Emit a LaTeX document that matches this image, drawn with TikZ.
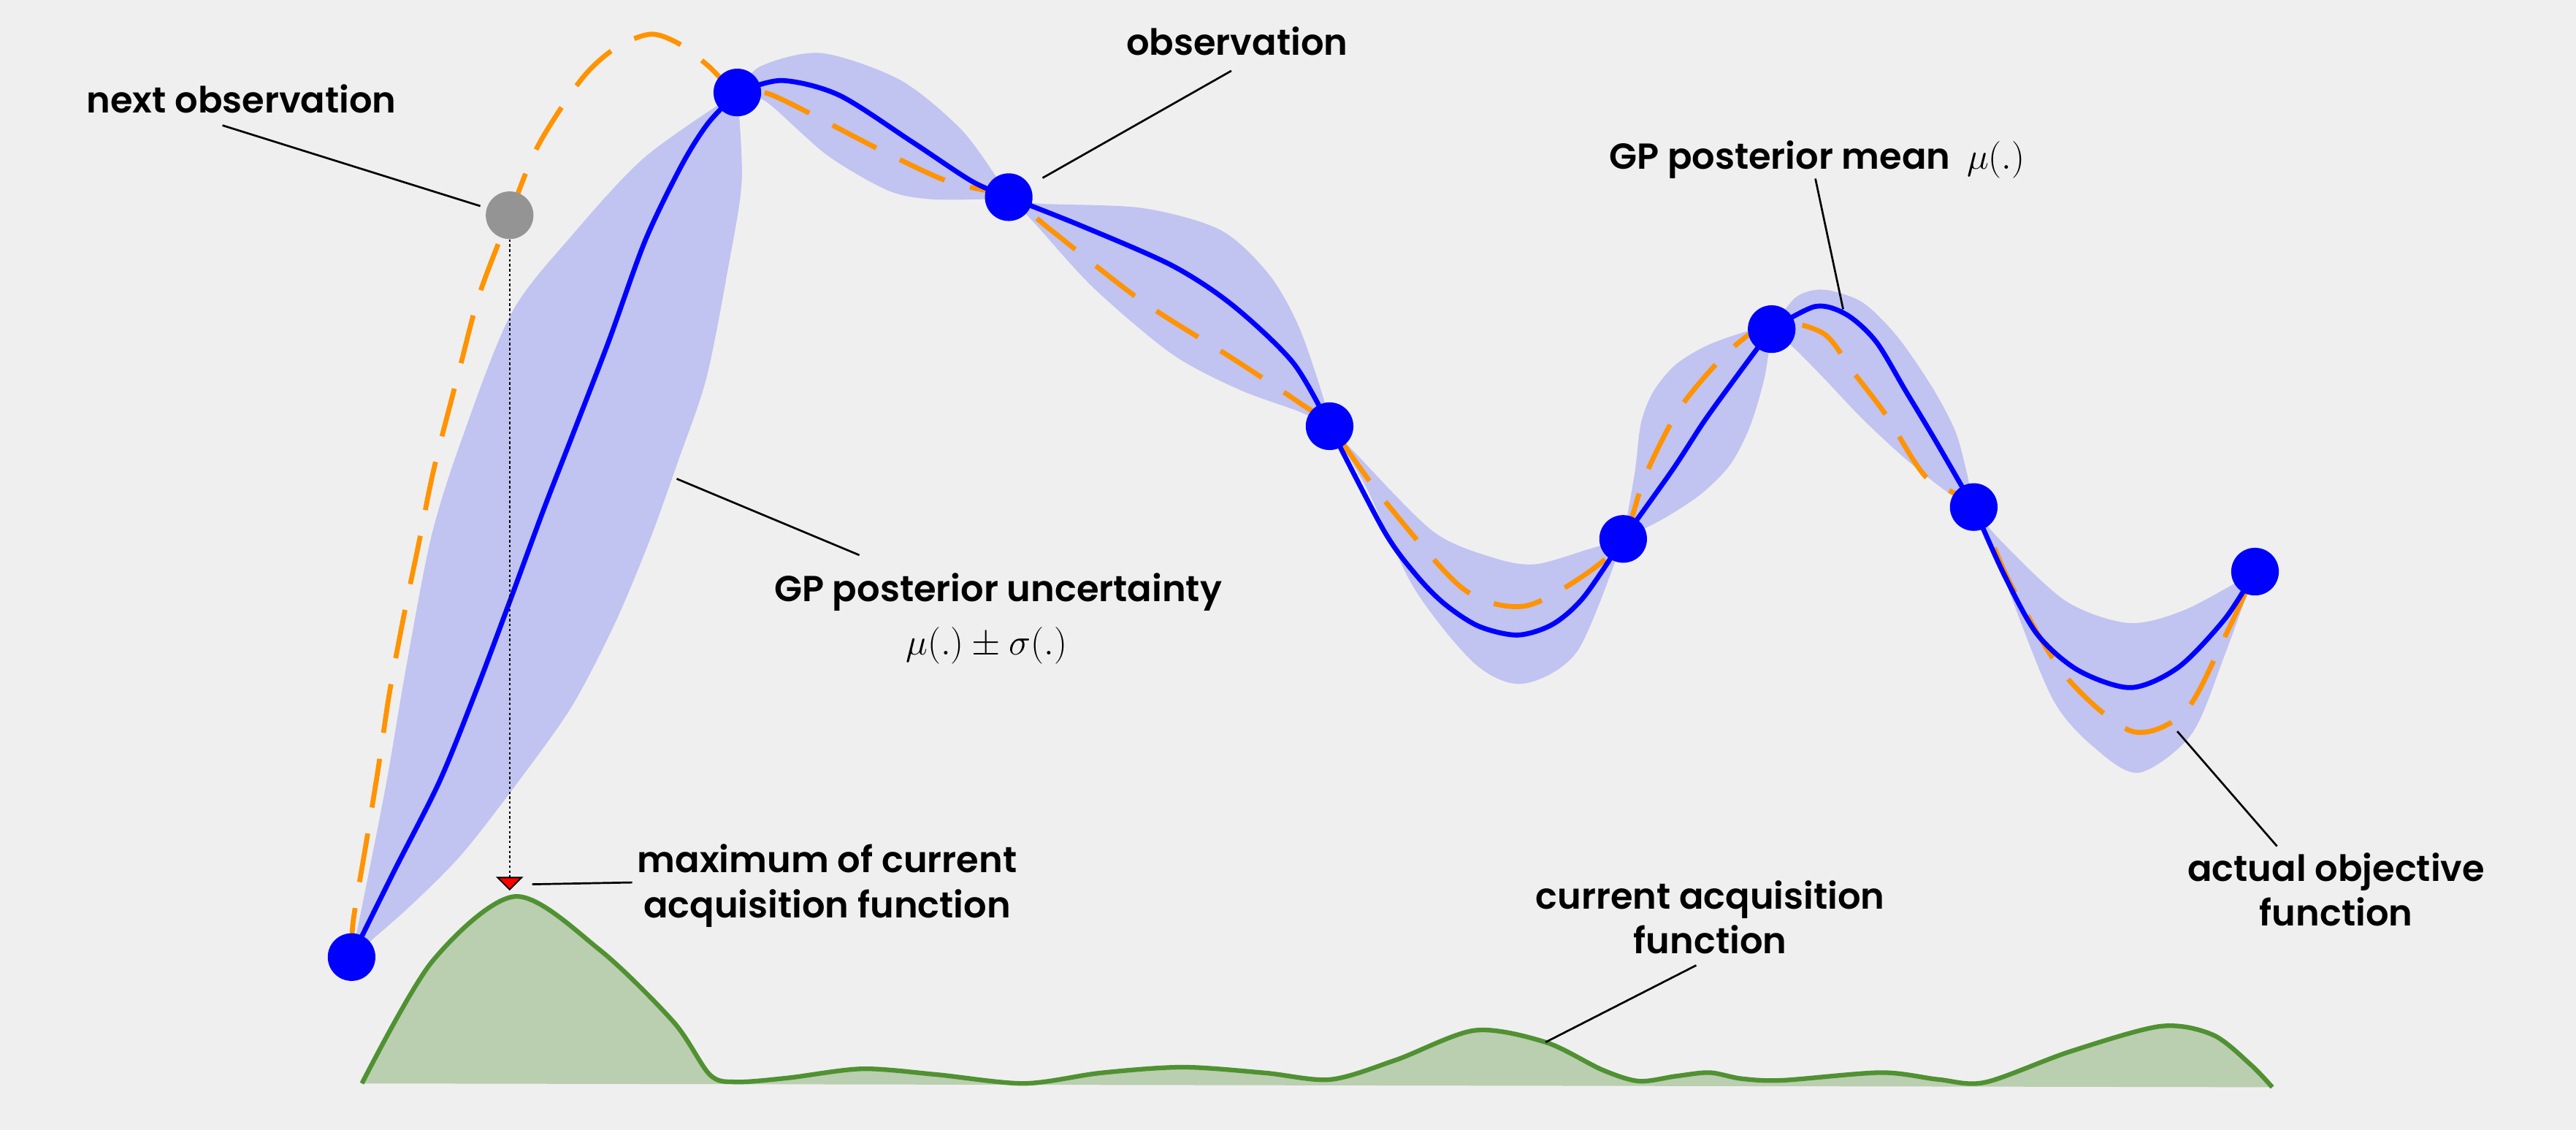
\documentclass[tikz,border=0pt]{standalone}
\usepackage{fix-cm}
\usepackage{fontspec}
\setmainfont{Poppins SemiBold}
\usetikzlibrary{arrows.meta}
\definecolor{bgcol}{RGB}{239,239,239}
\definecolor{bandcol}{RGB}{193,195,240}
\definecolor{truecol}{RGB}{255,147,0}
\definecolor{acqline}{RGB}{80,145,50}
\definecolor{acqarea}{RGB}{186,206,176}
\definecolor{nextcol}{RGB}{148,148,148}
\newcommand{\gpmath}[1]{{\fontsize{22.5}{27.2}\selectfont$#1$}}

\begin{document}
\begin{tikzpicture}[x=1pt,y=-1pt,
 mean/.style={blue,line width=3pt},
 truth/.style={truecol,line width=3pt,dash pattern=on 30pt off 16pt},
 band/.style={fill=bandcol},
 obs/.style={circle,fill=blue,minimum size=29pt,inner sep=0pt},
 lbl/.style={font=\fontsize{22}{27.2}\selectfont,align=center,anchor=base,inner sep=0pt},
 pointer/.style={black,line width=1.2pt}]
 \fill[bgcol](0,0) rectangle (1568,687.7); 
 \coordinate (p1) at (214,582.5); 
 \coordinate (p2) at (448.8,56.3); 
 \coordinate (p3) at (614,120); 
 \coordinate (p4) at (809.3,259.4); 
 \coordinate (p5) at (988,328); 
 \coordinate (p6) at (1078.4,200.3); 
 \coordinate (p7) at (1201.4,308.6); 
 \coordinate (p8) at (1372.6,347.9); 
 \fill[band] plot[smooth] coordinates {(p1) (221.8,544.6) (235.4,475.2) (247.3,405.7) (262.6,326.3) (281.3,266.7) (311.2,190.8) (348.2,143.2) (392.7,95.5) (p2)} 
  -- plot[smooth] coordinates {(p2) (451.5,110) (443.1,163.6) (430,230) (413,280) (395,330) (374,380) (348,430) (316,475) (281,520) (248,553) (p1)} -- cycle; 
 \fill[band] plot[smooth] coordinates {(p2) (462.8,40.4) (499.7,32.3) (547.6,48.5) (584.4,78.1) (606.5,107.7) (p3)} 
  -- plot[smooth] coordinates {(p3) (599.2,121.2) (566,121.2) (540.2,115.8) (503.3,94.3) (466.5,62) (p2)} -- cycle; 
 \fill[band] plot[smooth] coordinates {(p3) (632.3,123.9) (695,126.6) (742.9,140) (772.4,167) (790.8,199.3) (805.6,242.4) (p4)} 
  -- plot[smooth] coordinates {(p4) (790.8,250.5) (754,237) (713.4,215.5) (665.5,175.1) (628.7,134.7) (p3)} -- cycle; 
 \fill[band] plot[smooth] coordinates {(p4) (824,274.7) (872,323.2) (908.8,339.4) (934.6,343.4) (967.8,334) (p5)} 
  -- plot[smooth] coordinates {(p5) (960.4,395.9) (927.2,416.1) (897.8,404) (860.9,358.2) (831.4,296.3) (p4)} -- cycle; 
 \fill[band] plot[smooth] coordinates {(p5) (995.1,287.5) (998.8,257.8) (1006.2,238.6) (1019.5,222.3) (1038.8,210.4) (1064,201.5) (p6)} 
  -- plot[smooth] coordinates {(p6) (1074,230) (1065,260) (1053,283) (1035,301) (1012,316) (p5)} -- cycle; 
 \fill[band] plot[smooth] coordinates {(p6) (1093,181) (1110,176.3) (1133.6,184) (1155,205) (1176.3,236) (1190,262) (1196.5,284.9) (p7)} 
  -- plot[smooth] coordinates {(p7) (1186,300) (1160.1,279.5) (1133.6,254.9) (1110,230) (1092.1,211.9) (p6)} -- cycle; 
 \fill[band] plot[smooth] coordinates {(p7) (1216.8,328) (1257.3,365.7) (1295.7,379.2) (1330.1,371.1) (p8)} 
  -- plot[smooth] coordinates {(p8) (1354.4,398) (1334.2,446.5) (1302.6,470.2) (1277.5,457.3) (1249.2,425) (1216.8,344.1) (p7)} -- cycle; 
 \fill[acqarea] plot[smooth] coordinates {(220.3,659.4) (262.9,585.4) (313.6,545.6) (364.9,578) (410,622) (432,654) (448,658.5) (480,656) (524.8,650.5) (570,654) (623.4,659.4) (670,653) (720,649.5) (770,653) (810,657) (850,645) (897.8,627.1) (940.8,634.3) (975,651) (997.5,658) (1020,655) (1040.6,652.8) (1060,656.5) (1085,657.5) (1145,652.8) (1180,657) (1208.5,658.7) (1260,640) (1315.1,624.6) (1346.9,629.8) (1370,648) (1383.1,661.7)} -- cycle; 
 \draw[acqline,line width=2.8pt] plot[smooth] coordinates {(220.3,659.4) (262.9,585.4) (313.6,545.6) (364.9,578) (410,622) (432,654) (448,658.5) (480,656) (524.8,650.5) (570,654) (623.4,659.4) (670,653) (720,649.5) (770,653) (810,657) (850,645) (897.8,627.1) (940.8,634.3) (975,651) (997.5,658) (1020,655) (1040.6,652.8) (1060,656.5) (1085,657.5) (1145,652.8) (1180,657) (1208.5,658.7) (1260,640) (1315.1,624.6) (1346.9,629.8) (1370,648) (1383.1,661.7)}; 
 \draw[truth] plot[smooth] coordinates {(p1) (215,560.5) (222.6,514.8) (230.3,467.2) (237.1,421.5) (245.6,375.9) (255,330.3) (264.3,284.6) (280.1,223.1) (291.9,178.9) (310.2,131) (327.5,88.7) (354.2,47.9) (375,29) (396.3,20.8) (414,27) (431,40) (p2) (470.1,57.9) (536.5,91.6) (577,110.4) (p3) (639.7,140) (695,183.2) (750.3,218.2) (790.9,245.1) (p4) (842.5,304.4) (890.4,358.2) (927.2,369) (964.1,350.2) (p5) (1001.7,289) (1023.2,247.5) (1053.6,212.6) (1080,196) (1110,203) (1127.7,226) (1148,252.6) (1172.3,290.3) (p7) (1224.9,357.6) (1257.3,411.5) (1297.7,445.1) (1330.1,433) (1354.4,387.2) (p8)}; 
 \draw[mean] plot[smooth] coordinates {(p1) (240,530) (267.7,475.2) (290,420) (310.3,366) (330.5,311.2) (348.2,265.6) (370.5,207.8) (392.7,146.5) (414.9,100.6) (431,75) (p2)} 
  plot[smooth] coordinates {(p2) (475.7,49) (510.7,57.9) (555,86.2) (591.7,110.4) (p3)} 
  plot[smooth] coordinates {(p3) (658.1,137.4) (713.4,161.6) (750.3,185.8) (787.2,220.9) (p4)} 
  plot[smooth] coordinates {(p4) (842.5,323.2) (862,350) (879.3,367.6) (900,381.1) (923.6,386.5) (945,380) (964,363.4) (p5)} 
  plot[smooth] coordinates {(p5) (1018,286) (1037.3,256.4) (1056.6,229.7) (p6)} 
  plot[smooth] coordinates {(p6) (1105,186.5) (1124,191.5) (1142,208) (1160,238) (1178,268) (p7)} 
  plot[smooth] coordinates {(p7) (1220,350) (1240,386) (1265,408) (1297,418.5) (1326,406.1) (1354.4,376.5) (p8)}; 
 \node[obs] (o1) at (p1) {}; 
 \node[obs] (o2) at (p2) {}; 
 \node[obs] (o3) at (p3) {}; 
 \node[obs] (o4) at (p4) {}; 
 \node[obs] (o5) at (p5) {}; 
 \node[obs] (o6) at (p6) {}; 
 \node[obs] (o7) at (p7) {}; 
 \node[obs] (o8) at (p8) {}; 
 \node[obs,fill=nextcol] (nxt) at (310.2,131) {}; 
 \coordinate (tip) at (310.2,542); 
 \draw[line width=1pt,dash pattern=on 1.5pt off 1.5pt,-{Triangle[width=16.5pt,length=8.3pt,fill=red,line width=0.8pt]}] (nxt) -- (tip); 
 \node[lbl] (lnext) at (147,68.9) {next observation}; 
 \node[lbl] (lobs) at (753,33.7) {observation}; 
 \node[lbl] (lmean) at (1106,102.7) {GP posterior mean\hspace{10pt}\gpmath{\mu(.)}}; 
 \node[lbl] (lunc) at (607.5,398.6) {GP posterior uncertainty\\[5.1pt]\gpmath{\mu(.)\pm\sigma(.)}\hspace*{14pt}}; 
 \node[lbl] (lmax) at (503.5,558.4) {maximum of current\\acquisition function}; 
 \node[lbl] (lacq) at (1041,580.6) {current acquisition\\function}; 
 \node[lbl] (lobj) at (1422,563.7) {actual objective\\function}; 
 \coordinate (tmean) at (1121.9,188.2); 
 \coordinate (tunc) at (411.9,291.4); 
 \coordinate (tmax) at (323.9,538.2); 
 \coordinate (tacq) at (940.8,634.3); 
 \coordinate (tobj) at (1325.3,445.1); 
 \draw[pointer,shorten >=4pt] ([shift={(-11.6,7)}]lnext.south) -- (nxt); 
 \draw[pointer,shorten >=9pt] ([shift={(-3.5,9)}]lobs.south) -- (o3); 
 \draw[pointer] ([shift={(-1,0)}]lmean.south) -- (tmean); 
 \draw[pointer] ([shift={(52,-11)}]lunc.north west) -- (tunc); 
 \draw[pointer] ([shift={(-3,-2)}]lmax.west) -- (tmax); 
 \draw[pointer] ([shift={(-8.5,6.5)}]lacq.south) -- (tacq); 
 \draw[pointer] ([shift={(-36,-4)}]lobj.north) -- (tobj); 
\end{tikzpicture}
\end{document}
